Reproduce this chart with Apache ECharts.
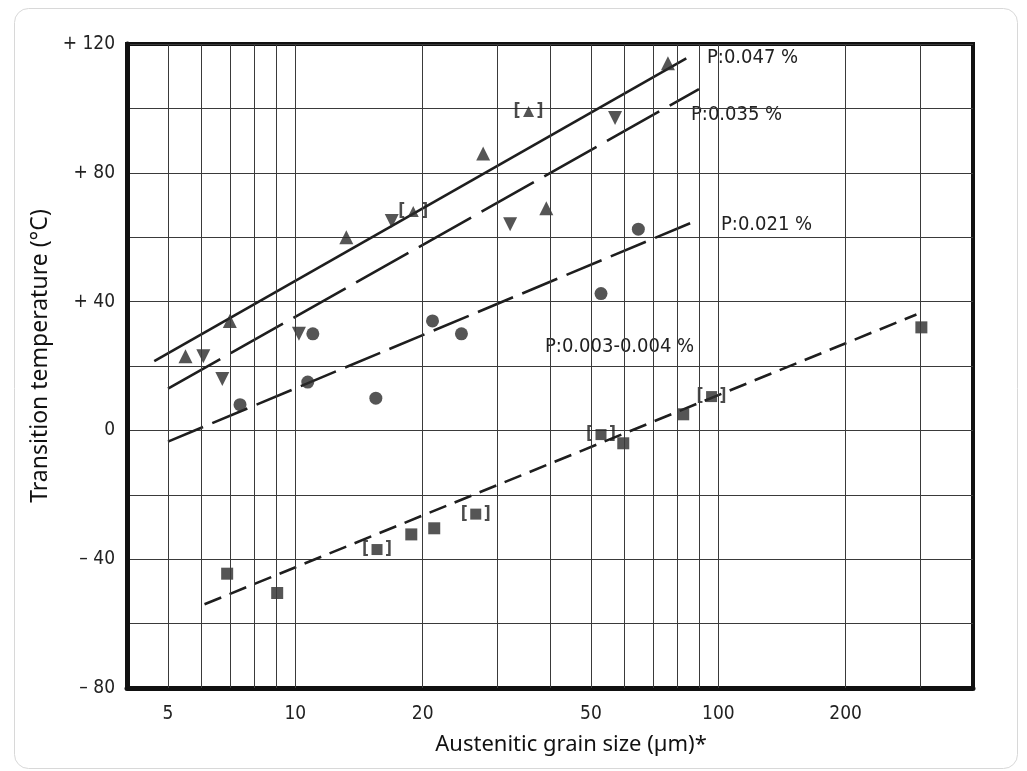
<!DOCTYPE html>
<html lang="en">
<head>
    <meta charset="UTF-8">
    <title>Transition temperature vs grain size</title>
    <style>
        html, body {margin: 0; padding: 0; background: #fff;}
        #chart {width: 1027px; height: 771px;}
    </style>
</head>
<body>
<div id="chart"></div>
<script src="https://cdn.jsdelivr.net/npm/echarts@6/dist/echarts.min.js"></script>
<script>
    // grain size (µm), transition temperature (°C)
    let p047 = [[5.5, 23], [7.0, 34], [13.2, 60], [27.8, 86], [39.2, 69], [76, 114]];
    let p047Br = [[19.0, 68], [35.6, 99]];
    let p035 = [[6.06, 23], [6.72, 16], [10.2, 30], [16.9, 65], [32.2, 64], [57, 97]];
    let p021 = [[7.4, 8], [10.7, 15], [11.0, 30], [15.5, 10], [21.1, 34], [24.7, 30], [52.8, 42.5], [64.7, 62.5]];
    let p003 = [[6.9, -44.5], [9.06, -50.5], [18.8, -32.3], [21.3, -30.4], [59.6, -4], [82.6, 5], [302, 32]];
    let p003Br = [[15.6, -37], [26.7, -26], [52.8, -1.3], [96.4, 10.5]];

    // fitted lines, end points
    let fit047 = [[4.64, 21.5], [84, 115.5]];
    let fit035 = [[5.0, 13], [90, 106]];
    let fit021 = [[5.0, -3.5], [90, 65.5]];
    let fit003 = [[6.1, -54], [294, 36]];

    let xGrid = [5, 6, 7, 8, 9, 10, 20, 30, 40, 50, 60, 70, 80, 90, 100, 200, 300];
    let xLabels = [5, 10, 20, 50, 100, 200];

    let ink = '#1e1e1e';
    let narrow = "'Liberation Sans Narrow', 'DejaVu Sans Condensed', sans-serif";
    let sans = "'Noto Sans', sans-serif";

    let myChart = echarts.init(document.getElementById('chart'));

    function fitLine(data, dash) {
        return {
            type: 'line', data: data, showSymbol: false, silent: true, z: 2,
            lineStyle: {color: ink, width: 2.6, type: dash}
        };
    }

    function dots(data, symbol, size, rotate, bracket) {
        return {
            type: 'scatter', data: data, symbol: symbol, symbolSize: size, symbolRotate: rotate || 0, z: 3,
            itemStyle: {color: '#2b2b2b'},
            label: bracket ? {
                show: true, position: 'inside', formatter: '[   ]',
                fontSize: 17, fontWeight: 'bold', color: ink, fontFamily: narrow
            } : {show: false}
        };
    }

    // vertical grid lines + bottom labels through the log axis
    let gridLines = xGrid.map(function (v) {
        return {
            xAxis: v,
            label: {show: xLabels.indexOf(v) >= 0, formatter: String(v)}
        };
    });

    function note(x, y, text) {
        return {
            type: 'text', left: x, top: y - 12,
            style: {text: text, fontSize: 20, fontFamily: narrow, fill: '#222'}
        };
    }

    let option = {
        animation: false,
        backgroundColor: '#fff',
        grid: {
            left: 127, top: 44, width: 846, height: 644,
            show: true, borderColor: '#111', borderWidth: 4
        },
        xAxis: {
            type: 'log', logBase: 10, min: 4, max: 400,
            name: 'Austenitic grain size (µm)*', nameLocation: 'middle', nameGap: 46,
            nameTextStyle: {fontSize: 22, color: '#111', fontFamily: sans, padding: [0, 0, 0, 42]},
            axisLine: {show: true, onZero: false, lineStyle: {color: '#111', width: 5}},
            axisTick: {show: false},
            axisLabel: {show: false},
            splitLine: {show: false}
        },
        yAxis: {
            type: 'value', min: -80, max: 120, interval: 20,
            name: 'Transition temperature (°C)', nameLocation: 'middle', nameGap: 70,
            nameTextStyle: {fontSize: 23, color: '#111', fontFamily: sans, padding: [0, 0, 0, 20]},
            axisLine: {show: true, onZero: false, lineStyle: {color: '#111', width: 5}},
            axisTick: {show: false},
            axisLabel: {
                margin: 12, fontSize: 19, color: '#222', fontFamily: narrow,
                formatter: function (v) {
                    if (v % 40 !== 0) return '';
                    if (v > 0) return '+ ' + v;
                    if (v < 0) return '\u2013 ' + (-v);
                    return '0';
                }
            },
            splitLine: {show: true, lineStyle: {color: '#3a3a3a', width: 1}}
        },
        graphic: [
            {
                type: 'rect', left: 12, top: 6, silent: true,
                shape: {width: 1003, height: 760, r: 14},
                style: {fill: 'none', stroke: '#d8d8d8', lineWidth: 1}
            },
            note(707, 60, 'P:0.047 %'),
            note(691, 117, 'P:0.035 %'),
            note(721, 227, 'P:0.021 %'),
            note(545, 349, 'P:0.003-0.004 %')
        ],
        series: [
            {
                type: 'scatter', data: [], silent: true, z: 1,
                markLine: {
                    silent: true, symbol: 'none', animation: false,
                    lineStyle: {color: '#3a3a3a', width: 1, type: 'solid'},
                    label: {
                        position: 'start', distance: 17, fontSize: 19,
                        color: '#222', fontFamily: narrow
                    },
                    data: gridLines
                }
            },
            fitLine(fit047, 'solid'),
            fitLine(fit035, [60, 12]),
            fitLine(fit021, [38, 10]),
            fitLine(fit003, [18, 9]),
            dots(p047, 'triangle', 14),
            dots(p047Br, 'triangle', 11, 0, true),
            dots(p035, 'triangle', 14, 180),
            dots(p021, 'circle', 13),
            dots(p003, 'rect', 12),
            dots(p003Br, 'rect', 11, 0, true)
        ]
    };

    myChart.setOption(option);
</script>
</body>
</html>
